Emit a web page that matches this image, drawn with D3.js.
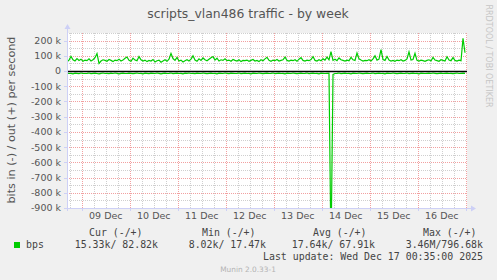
<!DOCTYPE html>
<html>
<head>
<meta charset="utf-8">
<script src="https://cdn.jsdelivr.net/npm/d3@7"></script>
<style>
body { margin: 0; background: #f0f0f0; }
svg { display: block; }
</style>
</head>
<body>
<div id="vis-div"></div>
<script>
'use strict'

// out (+) traffic, k bits per second, one value per hour
let outValues = [
	60, 72, 96, 74, 66, 82, 70, 78, 64, 72,
	68, 80, 66, 74, 88, 115, 50, 66, 74, 70,
	64, 76, 70, 62, 72, 68, 78, 66, 72, 84,
	92, 70, 64, 85, 72, 68, 95, 74, 66, 72,
	62, 70, 66, 76, 60, 68, 72, 58, 66, 74,
	64, 78, 116, 82, 70, 90, 66, 72, 60, 68,
	74, 66, 78, 100, 72, 64, 80, 70, 86, 74,
	68, 78, 88, 95, 72, 84, 66, 74, 70, 80,
	68, 72, 64, 76, 70, 66, 74, 62, 70, 68,
	72, 64, 70, 76, 66, 70, 62, 74, 68, 80,
	90, 70, 64, 72, 68, 76, 66, 70, 74, 92,
	70, 66, 72, 68, 74, 64, 78, 88, 70, 66,
	72, 68, 76, 95, 70, 66, 74, 68, 80, 72,
	92, 74, 128, 70, 78, 68, 86, 74, 70, 66,
	72, 68, 90, 74, 70, 118, 80, 72, 66, 70,
	68, 74, 66, 80, 100, 72, 78, 140, 76, 70,
	96, 72, 66, 70, 64, 72, 68, 74, 66, 70,
	80, 126, 72, 76, 117, 70, 66, 72, 68, 64,
	70, 74, 66, 90, 72, 68, 64, 74, 70, 66,
	94, 72, 68, 88, 70, 66, 72, 68, 215, 120
]

// in (-) traffic, drawn below zero
let inValues = [
	-14, -16, -15, -18, -14, -15, -17, -13, -15, -16,
	-15, -13, -17, -15, -14, -16, -18, -15, -13, -16,
	-15, -17, -14, -16, -13, -15, -18, -15, -14, -16,
	-16, -14, -15, -17, -15, -13, -16, -15, -18, -14,
	-15, -17, -14, -15, -16, -13, -15, -18, -15, -14,
	-16, -15, -13, -17, -15, -14, -16, -15, -18, -14,
	-15, -13, -16, -15, -17, -14, -15, -16, -13, -15,
	-17, -15, -14, -16, -15, -18, -14, -15, -16, -13,
	-15, -17, -14, -15, -16, -15, -13, -17, -15, -14,
	-16, -15, -18, -14, -15, -16, -13, -15, -17, -15,
	-14, -16, -15, -13, -17, -15, -14, -16, -15, -18,
	-14, -15, -16, -13, -15, -17, -15, -14, -16, -15,
	-13, -17, -15, -14, -16, -15, -18, -14, -15, -16,
	-15, -14, -1200, -22, -16, -15, -13, -17, -15, -14,
	-16, -15, -18, -14, -15, -16, -13, -15, -17, -15,
	-14, -16, -15, -13, -17, -15, -14, -16, -15, -18,
	-14, -15, -16, -13, -15, -17, -15, -14, -16, -15,
	-13, -17, -15, -14, -16, -15, -18, -14, -15, -16,
	-15, -14, -16, -13, -15, -17, -15, -14, -16, -15,
	-14, -16, -15, -17, -15, -13, -16, -15, -14, -15
]

let yTicks = [200, 100, 0, -100, -200, -300, -400, -500, -600, -700, -800, -900]
let yTickLabels = ["200 k", "100 k", "0", "-100 k", "-200 k", "-300 k", "-400 k", "-500 k", "-600 k", "-700 k", "-800 k", "-900 k"]
let dayLabels = ["09 Dec", "10 Dec", "11 Dec", "12 Dec", "13 Dec", "14 Dec", "15 Dec", "16 Dec"]
let legendHeaders = ["Cur (-/+)", "Min (-/+)", "Avg (-/+)", "Max (-/+)"]
let legendValues = ["15.33k/ 82.82k", "8.02k/ 17.47k", "17.64k/ 67.91k", "3.46M/796.68k"]

let startTime = Date.UTC(2025, 11, 8, 16, 35)
let endTime = Date.UTC(2025, 11, 17, 0, 35)
let stepMs = 60 * 60 * 1000

function crisp(v){
	return Math.round(v) + 0.5
}

function renderGraph(width, height){
	let plot = {left: 67, right: 467, top: 33, bottom: 208}
	let axisColor = "#cdd0f6"
	let svg = d3.select("#vis-div").append("svg")
		.attr("width", width)
		.attr("height", height)
		.style("font-family", "'DejaVu Sans', sans-serif")

	svg.append("rect").attr("width", width).attr("height", height).attr("fill", "#f0f0f0")
	svg.append("rect")
		.attr("x", plot.left).attr("y", plot.top)
		.attr("width", plot.right - plot.left).attr("height", plot.bottom - plot.top)
		.attr("fill", "#ffffff")

	let xScale = d3.scaleUtc().domain([startTime, endTime]).range([plot.left, plot.right])
	let yScale = d3.scaleLinear().domain([-900000, 250000]).range([plot.bottom, plot.top])

	// grid
	let grid = svg.append("g")
	let minorY = d3.range(-900000, 250001, 50000).filter(function(v){ return v % 100000 != 0 })
	grid.selectAll(".hminor").data(minorY).enter().append("line")
		.attr("x1", plot.left).attr("x2", plot.right)
		.attr("y1", function(d){ return crisp(yScale(d)) })
		.attr("y2", function(d){ return crisp(yScale(d)) })
		.attr("stroke", "#cfcfcf").attr("stroke-dasharray", "1,1")

	let hours = d3.utcHour.every(6).range(new Date(startTime), new Date(endTime))
	grid.selectAll(".vminor").data(hours.filter(function(d){ return d.getUTCHours() != 0 })).enter().append("line")
		.attr("x1", function(d){ return crisp(xScale(d)) })
		.attr("x2", function(d){ return crisp(xScale(d)) })
		.attr("y1", plot.top).attr("y2", plot.bottom)
		.attr("stroke", "#cfcfcf").attr("stroke-dasharray", "1,1")

	grid.selectAll(".hmajor").data(yTicks.filter(function(d){ return d != 0 })).enter().append("line")
		.attr("x1", plot.left).attr("x2", plot.right)
		.attr("y1", function(d){ return crisp(yScale(d * 1000)) })
		.attr("y2", function(d){ return crisp(yScale(d * 1000)) })
		.attr("stroke", "#f2a0a0").attr("stroke-dasharray", "1,1")

	let days = d3.utcDay.range(new Date(startTime), new Date(endTime))
	grid.selectAll(".vmajor").data(days).enter().append("line")
		.attr("x1", function(d){ return crisp(xScale(d)) })
		.attr("x2", function(d){ return crisp(xScale(d)) })
		.attr("y1", plot.top).attr("y2", plot.bottom)
		.attr("stroke", "#f2a0a0").attr("stroke-dasharray", "1,1")

	// y tick labels
	svg.append("g").selectAll("text").data(yTicks).enter().append("text")
		.attr("x", 61)
		.attr("y", function(d){ return yScale(d * 1000) })
		.attr("dy", "0.36em")
		.attr("text-anchor", "end")
		.attr("font-size", "9.5px")
		.attr("fill", "#555")
		.text(function(d, i){ return yTickLabels[i] })

	svg.append("g").selectAll("line").data(yTicks).enter().append("line")
		.attr("x1", plot.left - 3).attr("x2", plot.left)
		.attr("y1", function(d){ return crisp(yScale(d * 1000)) })
		.attr("y2", function(d){ return crisp(yScale(d * 1000)) })
		.attr("stroke", axisColor)

	// x labels at noon
	svg.append("g").selectAll("text").data(dayLabels).enter().append("text")
		.attr("x", function(d, i){ return xScale(Date.UTC(2025, 11, 9 + i, 12)) })
		.attr("y", 219)
		.attr("text-anchor", "middle")
		.attr("font-size", "9.5px")
		.attr("fill", "#555")
		.text(function(d){ return d })

	svg.append("g").selectAll("line").data(days).enter().append("line")
		.attr("x1", function(d){ return crisp(xScale(d)) })
		.attr("x2", function(d){ return crisp(xScale(d)) })
		.attr("y1", plot.bottom).attr("y2", plot.bottom + 3)
		.attr("stroke", axisColor)

	// series
	svg.append("clipPath").attr("id", "plot-clip").append("rect")
		.attr("x", plot.left).attr("y", plot.top)
		.attr("width", plot.right - plot.left).attr("height", plot.bottom - plot.top)

	let line = d3.line()
		.x(function(d, i){ return xScale(startTime + i * stepMs) })
		.y(function(d){ return yScale(d * 1000) })

	let series = svg.append("g").attr("clip-path", "url(#plot-clip)")
	series.append("path").datum(inValues)
		.attr("d", line).attr("fill", "none")
		.attr("stroke", "#00cc00").attr("stroke-width", 1.2)
	series.append("line")
		.attr("x1", plot.left).attr("x2", plot.right)
		.attr("y1", crisp(yScale(0))).attr("y2", crisp(yScale(0)))
		.attr("stroke", "#000").attr("stroke-width", 1.3)
	series.append("path").datum(outValues)
		.attr("d", line).attr("fill", "none")
		.attr("stroke", "#00cc00").attr("stroke-width", 1.2)

	// axes with arrows
	svg.append("line")
		.attr("x1", crisp(plot.left)).attr("x2", crisp(plot.left))
		.attr("y1", plot.bottom + 3).attr("y2", plot.top - 5)
		.attr("stroke", axisColor)
	svg.append("path")
		.attr("d", "M" + (plot.left - 2.5) + "," + (plot.top - 4) + "L" + (plot.left + 3.5) + "," + (plot.top - 4) + "L" + (plot.left + 0.5) + "," + (plot.top - 9) + "Z")
		.attr("fill", axisColor)
	svg.append("line")
		.attr("x1", plot.left - 3).attr("x2", plot.right + 5)
		.attr("y1", crisp(plot.bottom)).attr("y2", crisp(plot.bottom))
		.attr("stroke", axisColor)
	svg.append("path")
		.attr("d", "M" + (plot.right + 4) + "," + (plot.bottom - 2.5) + "L" + (plot.right + 4) + "," + (plot.bottom + 3.5) + "L" + (plot.right + 9) + "," + (plot.bottom + 0.5) + "Z")
		.attr("fill", axisColor)

	// titles
	svg.append("text")
		.attr("x", 248).attr("y", 17.5)
		.attr("text-anchor", "middle")
		.attr("font-size", "12.4px")
		.attr("fill", "#555")
		.text("scripts_vlan486 traffic - by week")

	svg.append("text")
		.attr("transform", "translate(15,120) rotate(-90)")
		.attr("text-anchor", "middle")
		.attr("font-size", "11.2px")
		.attr("fill", "#555")
		.text("bits in (-) / out (+) per second")

	svg.append("text")
		.attr("transform", "translate(486,56) rotate(90)")
		.attr("text-anchor", "middle")
		.attr("font-size", "8px")
		.attr("fill", "#c6c6c6")
		.text("RRDTOOL / TOBI OETIKER")

	// legend
	let mono = "'DejaVu Sans Mono', monospace"
	let headerX = [89, 202, 313, 423]
	let valueEndX = [158, 266, 375, 483]

	svg.append("g").selectAll("text").data(legendHeaders).enter().append("text")
		.attr("x", function(d, i){ return headerX[i] })
		.attr("y", 236)
		.attr("font-family", mono).attr("font-size", "9.9px").attr("fill", "#444")
		.style("white-space", "pre")
		.text(function(d){ return d })

	svg.append("rect")
		.attr("x", 14).attr("y", 242).attr("width", 6).attr("height", 6)
		.attr("fill", "#00cc00")
	svg.append("text")
		.attr("x", 26).attr("y", 248)
		.attr("font-family", mono).attr("font-size", "9.9px").attr("fill", "#444")
		.text("bps")

	svg.append("g").selectAll("text").data(legendValues).enter().append("text")
		.attr("x", function(d, i){ return valueEndX[i] })
		.attr("y", 248)
		.attr("text-anchor", "end")
		.attr("font-family", mono).attr("font-size", "9.9px").attr("fill", "#444")
		.style("white-space", "pre")
		.text(function(d){ return d })

	svg.append("text")
		.attr("x", 483).attr("y", 260)
		.attr("text-anchor", "end")
		.attr("font-family", mono).attr("font-size", "9.9px").attr("fill", "#444")
		.style("white-space", "pre")
		.text("Last update: Wed Dec 17 00:35:00 2025")

	svg.append("text")
		.attr("x", 248).attr("y", 272)
		.attr("text-anchor", "middle")
		.attr("font-size", "7.4px")
		.attr("fill", "#b4b4b4")
		.text("Munin 2.0.33-1")
}

renderGraph(497, 280)
</script>
</body>
</html>
